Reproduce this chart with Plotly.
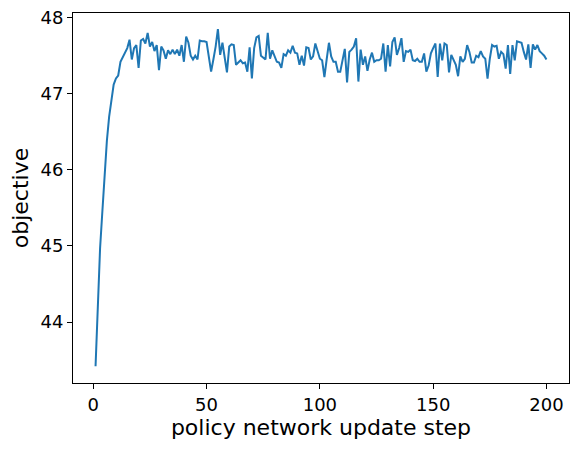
import plotly.graph_objects as go

steps = list(range(1, 201))

objective = [
    43.42, 44.15, 44.97, 45.45, 45.95, 46.38, 46.70, 46.92, 47.12, 47.20,
    47.24, 47.42, 47.48, 47.54, 47.60, 47.71, 47.45, 47.60, 47.64, 47.34,
    47.70, 47.72, 47.66, 47.80, 47.62, 47.68, 47.56, 47.64, 47.31, 47.62,
    47.57, 47.46, 47.57, 47.52, 47.58, 47.52, 47.58, 47.50, 47.64, 47.42,
    47.75, 47.67, 47.50, 47.45, 47.50, 47.45, 47.70, 47.69, 47.69, 47.68,
    47.45, 47.29, 47.45, 47.62, 47.85, 47.51, 47.67, 47.50, 47.28, 47.62,
    47.65, 47.64, 47.38, 47.41, 47.44, 47.40, 47.41, 47.29, 47.61, 47.20,
    47.60, 47.74, 47.76, 47.50, 47.48, 47.45, 47.80, 47.46, 47.57, 47.50,
    47.42, 47.41, 47.34, 47.52, 47.50, 47.57, 47.54, 47.63, 47.54, 47.53,
    47.38, 47.50, 47.37, 47.61, 47.60, 47.45, 47.49, 47.66, 47.55, 47.46,
    47.44, 47.22, 47.45, 47.67, 47.49, 47.42, 47.42, 47.29, 47.29, 47.45,
    47.59, 47.15, 47.55, 47.58, 47.62, 47.73, 47.16, 47.58, 47.38, 47.49,
    47.30, 47.45, 47.54, 47.42, 47.44, 47.44, 47.46, 47.66, 47.29, 47.64,
    47.36, 47.68, 47.74, 47.51, 47.60, 47.73, 47.42, 47.56, 47.55, 47.58,
    47.44, 47.43, 47.46, 47.42, 47.42, 47.53, 47.29, 47.37, 47.53, 47.60,
    47.66, 47.22, 47.66, 47.44, 47.66, 47.64, 47.28, 47.51, 47.44, 47.38,
    47.23, 47.49, 47.42, 47.46, 47.64, 47.55, 47.41, 47.41, 47.50, 47.48,
    47.56, 47.49, 47.46, 47.20, 47.46, 47.64, 47.62, 47.63, 47.46, 47.55,
    47.52, 47.33, 47.64, 47.26, 47.64, 47.44, 47.69, 47.68, 47.67, 47.55,
    47.45, 47.65, 47.34, 47.65, 47.58, 47.64, 47.56, 47.53, 47.50, 47.45,
]

x_ticks = [0, 50, 100, 150, 200]
y_ticks = [44, 45, 46, 47, 48]

fig = go.Figure()

fig.add_trace(
    go.Scatter(
        x=steps,
        y=objective,
        mode="lines",
        line=dict(color="#1f77b4", width=2),
        showlegend=False
    )
)

axis_style = dict(
    showline=True,
    mirror=True,
    linecolor="black",
    linewidth=1,
    showgrid=False,
    zeroline=False,
    automargin=False,
    ticks="outside",
    ticklen=5,
    tickwidth=1,
    tickcolor="black",
    ticklabeloverflow="allow",
    tickfont=dict(size=18, color="black"),
)

# the page body keeps its default 8px margin, so the figure is shrunk by that much
fig.update_layout(
    width=571,
    height=442,
    margin=dict(l=65, r=10, t=5, b=67),
    paper_bgcolor="white",
    plot_bgcolor="white",
    font=dict(family="DejaVu Sans", color="black"),
    xaxis=dict(
        range=[-8.95, 209.95],
        tickvals=x_ticks,
        title=dict(text="policy network update step", font=dict(size=22), standoff=4),
        **axis_style
    ),
    yaxis=dict(
        range=[43.199, 48.061],
        tickvals=y_ticks,
        title=dict(text="objective", font=dict(size=22), standoff=6),
        **axis_style
    ),
)

fig.write_html("out.html")
